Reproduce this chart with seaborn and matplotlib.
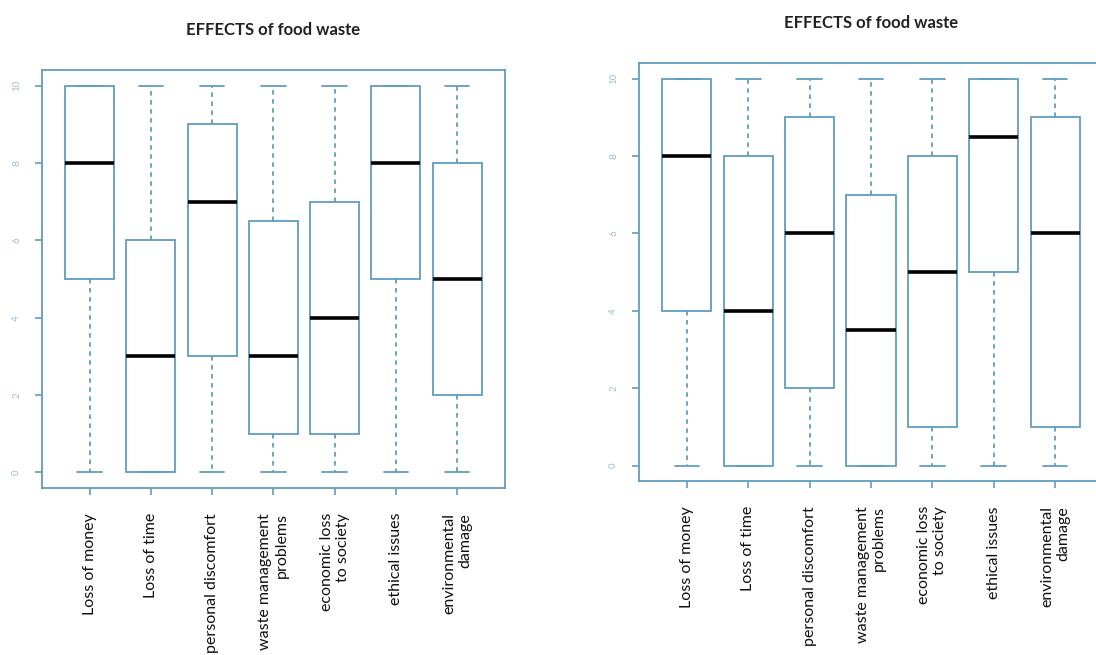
import pandas as pd
import matplotlib
matplotlib.use("Agg")
import matplotlib.pyplot as plt
import seaborn as sns

labels = ['Loss of money', 'Loss of time', 'personal discomfort',
          'waste management\nproblems', 'economic loss\nto society',
          'ethical issues', 'environmental\ndamage']

# five-number summaries (min, Q1, median, Q3, max)
left_min = [0, 0, 0, 0, 0, 0, 0]
left_q1 = [5, 0, 3, 1, 1, 5, 2]
left_med = [8, 3, 7, 3, 4, 8, 5]
left_q3 = [10, 6, 9, 6.5, 7, 10, 8]
left_max = [10, 10, 10, 10, 10, 10, 10]

right_min = [0, 0, 0, 0, 0, 0, 0]
right_q1 = [4, 0, 2, 0, 1, 5, 1]
right_med = [8, 4, 6, 3.5, 5, 8.5, 6]
right_q3 = [10, 8, 9, 7, 8, 10, 9]
right_max = [10, 10, 10, 10, 10, 10, 10]

title = 'EFFECTS of food waste'


def long_table(mins, q1s, meds, q3s, maxs):
    rows = []
    for lab, a, b, c, d, e in zip(labels, mins, q1s, meds, q3s, maxs):
        for v in (a, b, c, d, e):
            rows.append({'effect': lab, 'score': v})
    return pd.DataFrame(rows)


df_left = long_table(left_min, left_q1, left_med, left_q3, left_max)
df_right = long_table(right_min, right_q1, right_med, right_q3, right_max)

sns.set_theme(style="ticks")
plt.rcParams['font.family'] = ['Lato', 'DejaVu Sans']

blue = '#609dc0'

fig = plt.figure(figsize=(10.96, 6.55), dpi=100)
ax1 = fig.add_axes([0.0383, 0.255, 0.4224, 0.638])
ax2 = fig.add_axes([0.583, 0.2656, 0.4234, 0.638])

for ax, df in ((ax1, df_left), (ax2, df_right)):
    sns.boxplot(
        data=df, x='effect', y='score', ax=ax,
        order=labels, color='white', linecolor=blue,
        width=0.8, whis=(0, 100), linewidth=1.3,
        medianprops={'color': 'black', 'linewidth': 2.6},
        whiskerprops={'linestyle': (0, (2.5, 2.5)), 'color': blue},
        capprops={'color': blue},
        boxprops={'edgecolor': blue},
    )
    ax.set_xlim(-0.78, 6.78)
    ax.set_ylim(-0.4, 10.4)
    ax.set_yticks([0, 2, 4, 6, 8, 10])
    ax.set_xlabel('')
    ax.set_ylabel('')
    ax.set_title(title, fontsize=12, fontweight='bold', color='#222222', pad=25)
    for s in ax.spines.values():
        s.set_visible(True)
        s.set_color(blue)
        s.set_linewidth(1.3)
    ax.tick_params(axis='both', colors=blue, length=5, width=1.2)
    ax.tick_params(axis='y', labelcolor='#9cbfd3', labelsize=7, pad=10)
    for t in ax.get_yticklabels():
        t.set_rotation(90)
        t.set_va('center')
    ax.tick_params(axis='x', labelcolor='#111111', labelsize=11.5, pad=13)
    for t in ax.get_xticklabels():
        t.set_rotation(90)
        t.set_ha('center')
        t.set_va('top')
        t.set_multialignment('right')

fig.savefig('out.png', dpi=100)
